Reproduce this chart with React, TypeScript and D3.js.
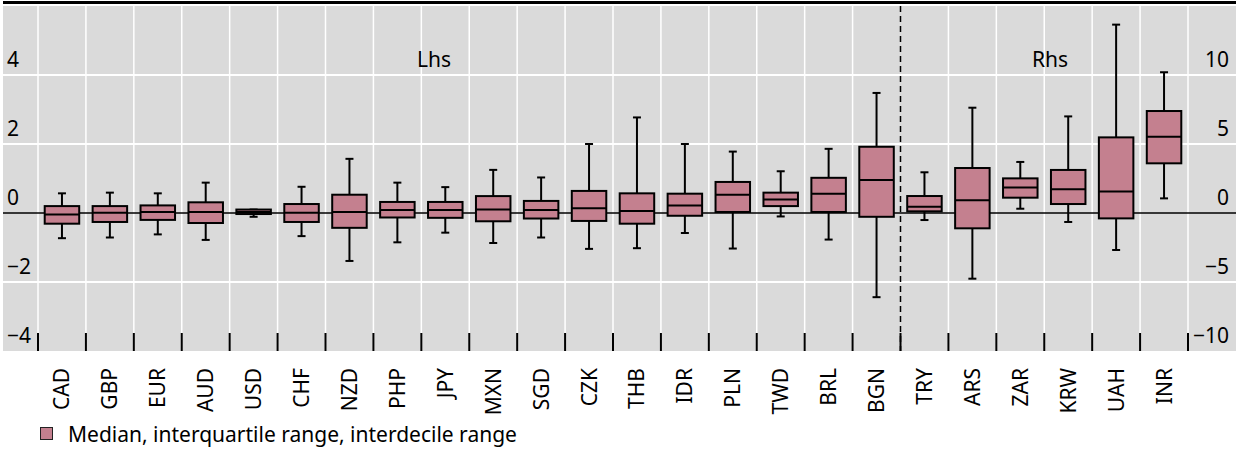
import React from "react";
import * as d3 from "d3";

const categories = ["CAD","GBP","EUR","AUD","USD","CHF","NZD","PHP","JPY","MXN","SGD","CZK","THB","IDR","PLN","TWD","BRL","BGN","TRY","ARS","ZAR","KRW","UAH","INR"];
// axis side for each category
const sides = ["L","L","L","L","L","L","L","L","L","L","L","L","L","L","L","L","L","L","R","R","R","R","R","R"];
// interdecile low (p10), q1, median, q3, interdecile high (p90)
const p10 =   [-0.73,-0.71,-0.62,-0.78,-0.11,-0.67,-1.39,-0.85,-0.57,-0.87,-0.71,-1.04,-1.02,-0.58,-1.03,-0.10,-0.77,-2.44,-0.51,-4.76,0.31,-0.65,-2.68,1.06];
const q1 =    [-0.31,-0.26,-0.20,-0.29,-0.03,-0.26,-0.43,-0.13,-0.14,-0.24,-0.16,-0.23,-0.31,-0.08,0.03,0.20,0.03,-0.11,0.12,-1.11,1.11,0.65,-0.39,3.60];
const median =[-0.04,0.01,0.03,0.03,0.03,0.01,0.03,0.09,0.09,0.10,0.09,0.14,0.06,0.22,0.53,0.39,0.56,0.96,0.46,0.92,1.84,1.72,1.55,5.53];
const q3 =    [0.20,0.20,0.22,0.31,0.10,0.26,0.53,0.32,0.32,0.49,0.35,0.64,0.57,0.56,0.90,0.59,1.02,1.92,1.23,3.26,2.51,3.12,5.48,7.39];
const p90 =   [0.57,0.59,0.57,0.88,0.10,0.76,1.57,0.88,0.75,1.25,1.03,2.00,2.77,2.00,1.78,1.21,1.86,3.48,2.95,7.63,3.70,7.00,13.65,10.20];

const leftTicks = [-4,-2,0,2,4];
const rightTicks = [-10,-5,0,5,10];
const legendLabel = "Median, interquartile range, interdecile range";

const W = 1236, H = 451;
const FONT = "'Noto Sans', 'Open Sans', sans-serif";
const FILL = "#c4808f";
const BG = "#dadada";

export default function App() {
  const panelL = 3, panelR = W, panelT = 6, panelB = 351;
  const x = d3.scaleBand<string>().domain(categories).range([38, 1188]).padding(0);
  const yL = d3.scaleLinear().domain([-4, 6]).range([panelB, panelT]);
  const yR = d3.scaleLinear().domain([-10, 15]).range([panelB, panelT]);
  const bw = x.bandwidth();
  const boxW = bw * 0.72;
  const capW = 8;
  const bounds = d3.range(categories.length + 1).map(i => 38 + i * bw);
  const splitX = x("TRY") as number;
  const gridVals = [-2, 2, 4];
  const fs = 21;

  return (
    <svg width={W} height={H} style={{ position: "absolute", left: 0, top: 0, fontFamily: FONT, display: "block" }}>
      <rect x={0} y={0} width={W} height={H} fill="#fff" />
      <rect x={panelL} y={1} width={W - panelL} height={3} fill="#000" />
      <rect x={panelL} y={panelT} width={panelR - panelL} height={panelB - panelT} fill={BG} />
      {gridVals.map(v => (
        <line key={"h" + v} x1={panelL} x2={panelR} y1={yL(v)} y2={yL(v)} stroke="#fff" strokeWidth={2} />
      ))}
      {bounds.map((bx, i) => bx === splitX ? null : (
        <line key={"v" + i} x1={bx} x2={bx} y1={panelT} y2={panelB} stroke="#fff" strokeWidth={1.5} />
      ))}
      {bounds.map((bx, i) => (
        <line key={"t" + i} x1={bx} x2={bx} y1={333} y2={panelB} stroke="#000" strokeWidth={2} />
      ))}
      <line x1={splitX} x2={splitX} y1={panelT} y2={panelB} stroke="#000" strokeWidth={1.5} strokeDasharray="6,4" />
      <line x1={panelL} x2={panelR} y1={yL(0)} y2={yL(0)} stroke="#000" strokeWidth={1.5} />
      {leftTicks.map(v => (
        <text key={"l" + v} x={7} y={yL(v) - 8} fontSize={fs} fill="#000">{v < 0 ? "\u2212" + Math.abs(v) : v}</text>
      ))}
      {rightTicks.map(v => (
        <text key={"r" + v} x={1229} y={yR(v) - 8} fontSize={fs} fill="#000" textAnchor="end">{v < 0 ? "\u2212" + Math.abs(v) : v}</text>
      ))}
      <text x={434} y={yL(4) - 8} fontSize={fs} textAnchor="middle">Lhs</text>
      <text x={1050} y={yL(4) - 8} fontSize={fs} textAnchor="middle">Rhs</text>
      {categories.map((c, i) => {
        const y = sides[i] === "L" ? yL : yR;
        const cx = (x(c) as number) + bw / 2;
        return (
          <g key={c}>
            <line x1={cx} x2={cx} y1={y(p90[i])} y2={y(q3[i])} stroke="#000" strokeWidth={2} />
            <line x1={cx} x2={cx} y1={y(q1[i])} y2={y(p10[i])} stroke="#000" strokeWidth={2} />
            <line x1={cx - capW / 2} x2={cx + capW / 2} y1={y(p90[i])} y2={y(p90[i])} stroke="#000" strokeWidth={2} />
            <line x1={cx - capW / 2} x2={cx + capW / 2} y1={y(p10[i])} y2={y(p10[i])} stroke="#000" strokeWidth={2} />
            <rect x={cx - boxW / 2} y={y(q3[i])} width={boxW} height={Math.max(0, y(q1[i]) - y(q3[i]))} fill={FILL} stroke="#000" strokeWidth={2} />
            <line x1={cx - boxW / 2} x2={cx + boxW / 2} y1={y(median[i])} y2={y(median[i])} stroke="#000" strokeWidth={2} />
            <text transform={`translate(${cx + 7.5},${368}) rotate(-90)`} fontSize={fs} textAnchor="end">{c}</text>
          </g>
        );
      })}
      <rect x={40.5} y={427.5} width={12} height={12} fill={FILL} stroke="#222" strokeWidth={1} />
      <text x={68} y={441.5} fontSize={fs}>{legendLabel}</text>
    </svg>
  );
}
